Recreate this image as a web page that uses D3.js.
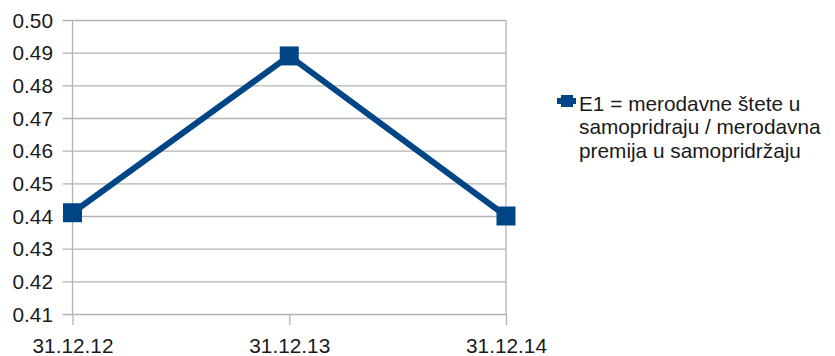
<!DOCTYPE html>
<html><head><meta charset="utf-8">
<script src="https://cdn.jsdelivr.net/npm/d3@7"></script>
<style>body{margin:0;background:#fff}svg{display:block}text{font-family:"Liberation Sans",Arial,sans-serif}</style>
</head><body>
<script>
const categories = ["31.12.12", "31.12.13", "31.12.14"];
const values = [0.441, 0.489, 0.440];
const yTicks = [0.41, 0.42, 0.43, 0.44, 0.45, 0.46, 0.47, 0.48, 0.49, 0.50];
const seriesName = ["E1 = merodavne štete u", "samopridraju / merodavna", "premija u samopridržaju"];

const W = 835, H = 356;
const pL = 72.5, pR = 506, pT = 20, pB = 314;
const color = "#004586", grid = "#b3b3b3", txt = "#1a1a1a";
const fs = 20.8;

const svg = d3.select("body").append("svg").attr("width", W).attr("height", H);
const x = d3.scalePoint().domain(categories).range([pL, pR]);
const y = d3.scaleLinear().domain([0.41, 0.50]).range([pB, pT]);

// horizontal gridlines with outer ticks
const yAxis = svg.append("g").attr("transform", `translate(${pL},0)`)
  .call(d3.axisLeft(y).tickValues(yTicks).tickFormat(d3.format(".2f")).tickSize(-(pR - pL)).tickPadding(0));
yAxis.select(".domain").remove();
yAxis.selectAll(".tick line").attr("stroke", grid).attr("x1", -10).attr("x2", pR - pL).attr("stroke-width", 1.3);
yAxis.selectAll(".tick text").attr("x", -19.5).attr("dy", "0.35em").attr("font-size", fs).attr("fill", txt);

// x axis ticks and labels
const xAxis = svg.append("g").attr("transform", `translate(0,${pB})`)
  .call(d3.axisBottom(x).tickSize(11).tickPadding(0));
xAxis.select(".domain").remove();
xAxis.selectAll(".tick line").attr("stroke", grid).attr("stroke-width", 1.3);
xAxis.selectAll(".tick text").attr("y", 39).attr("dy", 0).attr("font-size", fs).attr("fill", txt);

// vertical frame lines at first/last category
[categories[0], categories[categories.length - 1]].forEach(c => {
  svg.append("line").attr("x1", x(c)).attr("x2", x(c)).attr("y1", pT).attr("y2", pB)
    .attr("stroke", grid).attr("stroke-width", 1.3);
});

const data = categories.map((c, i) => ({c, v: values[i]}));
svg.append("path").datum(data)
  .attr("d", d3.line().x(d => x(d.c)).y(d => y(d.v)))
  .attr("fill", "none").attr("stroke", color).attr("stroke-width", 6).attr("stroke-linejoin", "miter");
const ms = 19;
svg.selectAll("rect.m").data(data).join("rect").attr("class", "m")
  .attr("x", d => x(d.c) - ms / 2).attr("y", d => y(d.v) - ms / 2)
  .attr("width", ms).attr("height", ms).attr("fill", color);

// legend
const lg = svg.append("g");
lg.append("line").attr("x1", 557).attr("x2", 576).attr("y1", 101).attr("y2", 101).attr("stroke", color).attr("stroke-width", 6);
lg.append("rect").attr("x", 561).attr("y", 95).attr("width", 12).attr("height", 12).attr("fill", color);
lg.selectAll("text").data(seriesName).join("text")
  .attr("x", 579).attr("y", (d, i) => 111 + i * 23.3)
  .attr("font-size", fs).attr("fill", txt).text(d => d);
</script>
</body></html>
